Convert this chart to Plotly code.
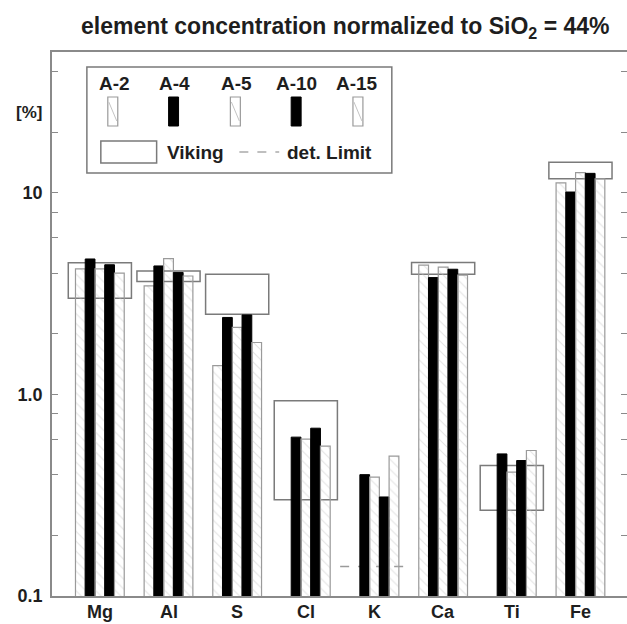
import plotly.graph_objects as go

elements = ["Mg", "Al", "S", "Cl", "K", "Ca", "Ti", "Fe"]
samples = ["A-2", "A-4", "A-5", "A-10", "A-15"]

a2 = [4.2, 3.46, 1.39, None, None, 4.38, None, 11.2]
a4 = [4.7, 4.34, 2.41, 0.614, 0.40, 3.80, 0.507, 10.1]
a5 = [4.2, 4.72, 2.15, 0.60, 0.389, 4.28, 0.412, 12.6]
a10 = [4.4, 4.03, 2.48, 0.68, 0.31, 4.18, 0.47, 12.5]
a15 = [4.0, 3.87, 1.81, 0.554, 0.494, 3.91, 0.527, 11.75]

viking_low = [3.0, 3.63, 2.5, 0.30, None, 3.95, 0.266, 11.75]
viking_high = [4.5, 4.10, 3.95, 0.93, None, 4.51, 0.444, 14.2]

det_limit_element = "K"
det_limit_value = 0.14

y_tick_vals = [0.1, 1, 10]
y_tick_text = ["0.1", "1.0", "10"]
y_minor_vals = [0.2, 0.4, 0.6, 0.8, 2, 4, 6, 8, 20, 40]

series = [a2, a4, a5, a10, a15]
solid = [False, True, False, True, False]

W, H = 629, 624
L, R, T, B = 52, 629, 52, 596
FONT = "Liberation Sans"
GREY = "#8a8a8a"
TXT = "#1e1e1e"


def px(x):
    return (x - L) / (R - L)


def py(y):
    return (B - y) / (B - T)


xs = list(range(len(elements)))
fig = go.Figure()
for name, vals, s in zip(samples, series, solid):
    if s:
        marker = dict(color="black", line=dict(color="black", width=1))
    else:
        marker = dict(color="rgba(255,255,255,0)",
                      line=dict(color="#9a9a9a", width=1.2),
                      pattern=dict(shape="\\", fgcolor="#c8c8c8", bgcolor="rgba(255,255,255,0)",
                                   size=7, solidity=0.15))
    fig.add_trace(go.Bar(x=xs, y=vals, name=name, marker=marker, showlegend=False))

shapes = []
for i, (lo, hi) in enumerate(zip(viking_low, viking_high)):
    if lo is None:
        continue
    shapes.append(dict(type="rect", xref="x", yref="y", x0=i - 0.46, x1=i + 0.46, y0=lo, y1=hi,
                       line=dict(color="#7a7a7a", width=1.5), fillcolor="rgba(0,0,0,0)", layer="below"))
k = elements.index(det_limit_element)
shapes.append(dict(type="line", xref="x", yref="y", x0=k - 0.5, x1=k + 0.5, y0=det_limit_value,
                   y1=det_limit_value, line=dict(color="#9a9a9a", width=1.5, dash="dash"), layer="below"))

# custom legend
shapes.append(dict(type="rect", xref="paper", yref="paper", x0=px(87), x1=px(393), y0=py(173), y1=py(67),
                   line=dict(color="#7a7a7a", width=1.5), fillcolor="white", layer="above"))
annotations = []
label_centers = [115, 175, 237, 297, 358]
icon_centers = [113, 174, 236, 297, 359]
for name, lx, cx, s in zip(samples, label_centers, icon_centers, solid):
    annotations.append(dict(text="<b>%s</b>" % name, xref="paper", yref="paper", x=px(lx), y=py(83),
                            showarrow=False, font=dict(family=FONT, size=19, color=TXT),
                            xanchor="center", yanchor="middle"))
    if s:
        shapes.append(dict(type="rect", xref="paper", yref="paper", x0=px(cx - 5), x1=px(cx + 5),
                           y0=py(126), y1=py(97), line=dict(color="black", width=1), fillcolor="black"))
    else:
        shapes.append(dict(type="rect", xref="paper", yref="paper", x0=px(cx - 5), x1=px(cx + 5),
                           y0=py(126), y1=py(97), line=dict(color="#9a9a9a", width=1.2), fillcolor="white"))
        shapes.append(dict(type="line", xref="paper", yref="paper", x0=px(cx - 4), x1=px(cx + 4),
                           y0=py(102), y1=py(121), line=dict(color="#c4c4c4", width=1)))
shapes.append(dict(type="rect", xref="paper", yref="paper", x0=px(101), x1=px(157), y0=py(163), y1=py(141),
                   line=dict(color="#7a7a7a", width=1.5), fillcolor="white"))
annotations.append(dict(text="<b>Viking</b>", xref="paper", yref="paper", x=px(165), y=py(152),
                        showarrow=False, font=dict(family=FONT, size=19, color=TXT),
                        xanchor="left", yanchor="middle"))
shapes.append(dict(type="line", xref="paper", yref="paper", x0=px(240), x1=px(280), y0=py(152), y1=py(152),
                   line=dict(color="#aaaaaa", width=1.5, dash="dash")))
annotations.append(dict(text="<b>det. Limit</b>", xref="paper", yref="paper", x=px(286), y=py(152),
                        showarrow=False, font=dict(family=FONT, size=19, color=TXT),
                        xanchor="left", yanchor="middle"))

annotations.append(dict(text="<b>[%]</b>", xref="paper", yref="paper", x=px(44), y=py(112), showarrow=False,
                        font=dict(family=FONT, size=17, color=TXT), xanchor="right", yanchor="middle"))
annotations.append(dict(text="<b>element concentration normalized to SiO<sub>2</sub> = 44%</b>",
                        xref="paper", yref="paper", x=px(347), y=py(28), showarrow=False,
                        font=dict(family=FONT, size=23, color=TXT), xanchor="center", yanchor="middle"))
for i, e in enumerate(elements):
    annotations.append(dict(text="<b>%s</b>" % e, xref="x", yref="paper", x=i, y=py(612), showarrow=False,
                            font=dict(family=FONT, size=18, color=TXT), xanchor="center", yanchor="middle"))

fig.update_layout(
    width=W, height=H,
    margin=dict(l=L, r=W - R, t=T, b=H - B),
    plot_bgcolor="white", paper_bgcolor="white",
    barmode="group", bargap=0.29, bargroupgap=0,
    shapes=shapes, annotations=annotations,
    font=dict(family=FONT, color=TXT),
)
fig.update_xaxes(range=[-0.697, 7.678], tickvals=xs, showticklabels=False,
                 showline=True, linecolor=GREY, linewidth=1.5, mirror=True, ticks="",
                 showgrid=False, zeroline=False)
fig.update_yaxes(type="log", range=[-1, 1.699], tickvals=y_tick_vals,
                 ticktext=["<b>%s</b>" % t for t in y_tick_text],
                 showline=True, linecolor=GREY, linewidth=1.5, mirror="ticks", ticks="inside", ticklen=6,
                 tickcolor=GREY, showgrid=False, zeroline=False, ticklabelstandoff=4,
                 tickfont=dict(size=18, family=FONT, color=TXT),
                 minor=dict(tickvals=y_minor_vals, ticks="inside", ticklen=6, tickcolor=GREY, showgrid=False))

fig.write_html("out.html", config={"displayModeBar": False},
               post_script="document.body.style.margin='0';document.body.style.overflow='hidden';")
